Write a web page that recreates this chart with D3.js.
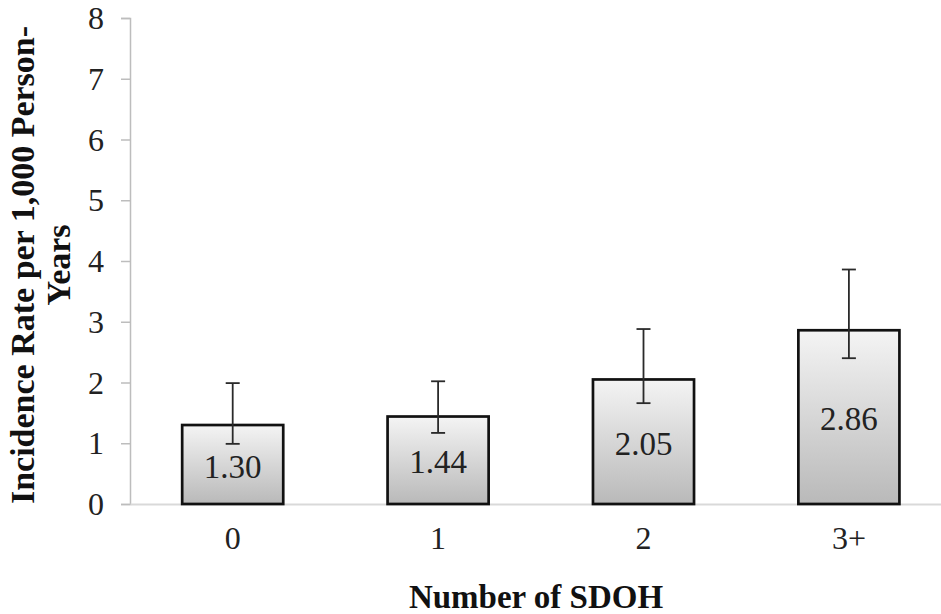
<!DOCTYPE html>
<html>
<head>
<meta charset="utf-8">
<script src="https://cdn.jsdelivr.net/npm/d3@7"></script>
<style>
  html, body { margin: 0; padding: 0; background: #fff; }
  svg { display: block; }
</style>
</head>
<body>
<svg id="chart" width="941" height="614"></svg>
<script>
const categories = ["0", "1", "2", "3+"];
const rates = [1.30, 1.44, 2.05, 2.86];
const rateLabels = ["1.30", "1.44", "2.05", "2.86"];
const ciLower = [0.99, 1.17, 1.66, 2.40];
const ciUpper = [1.99, 2.02, 2.88, 3.86];
const yTicks = [0, 1, 2, 3, 4, 5, 6, 7, 8];
const xTitle = "Number of SDOH";
const yTitleLines = ["Incidence Rate per 1,000 Person-", "Years"];

const svg = d3.select("#chart");
const serif = "'Liberation Serif', 'Times New Roman', Times, serif";

const x = d3.scaleBand().domain(categories).range([130, 951.6]).paddingInner(0.508).paddingOuter(0.254);
const y = d3.scaleLinear().domain([0, 8]).range([504, 18]);

// gradient
const defs = svg.append("defs");
const grad = defs.append("linearGradient").attr("id", "barGrad")
  .attr("x1", 0).attr("y1", 0).attr("x2", 0).attr("y2", 1);
grad.append("stop").attr("offset", "0%").attr("stop-color", "#f4f4f4");
grad.append("stop").attr("offset", "100%").attr("stop-color", "#b9b9b9");

// y axis
const yAxis = d3.axisLeft(y).tickValues(yTicks).tickSize(9).tickPadding(17).tickFormat(d3.format("d"));
const gy = svg.append("g").attr("transform", "translate(130,0)").call(yAxis);
gy.attr("font-family", serif).attr("font-size", 32);
gy.select(".domain").attr("stroke", "#bdbdbd").attr("stroke-width", 1.5);
gy.selectAll(".tick line").attr("stroke", "#bdbdbd").attr("stroke-width", 1.5);
gy.selectAll(".tick text").attr("font-family", serif).attr("font-size", 32).attr("fill", "#222").attr("dy", "0.33em");

// x axis
const xAxis = d3.axisBottom(x).tickSize(0).tickPadding(22);
const gx = svg.append("g").attr("transform", "translate(0,504)").call(xAxis);
gx.attr("font-family", serif).attr("font-size", 32);
gx.select(".domain").attr("stroke", "#d9d9d9").attr("stroke-width", 2);
gx.selectAll(".tick text").attr("font-family", serif).attr("font-size", 32).attr("fill", "#222");

// bars
const data = categories.map((c, i) => ({ c, v: rates[i], lab: rateLabels[i], lo: ciLower[i], hi: ciUpper[i] }));
svg.append("g").selectAll("rect").data(data).join("rect")
  .attr("x", d => x(d.c)).attr("width", x.bandwidth())
  .attr("y", d => y(d.v)).attr("height", d => y(0) - y(d.v))
  .attr("fill", "url(#barGrad)").attr("stroke", "#111").attr("stroke-width", 2.7);

// error bars
const eg = svg.append("g").attr("stroke", "#2a2a2a").attr("stroke-width", 1.8);
const cap = 7;
data.forEach(d => {
  const cx = x(d.c) + x.bandwidth() / 2;
  eg.append("line").attr("x1", cx).attr("x2", cx).attr("y1", y(d.hi)).attr("y2", y(d.lo));
  eg.append("line").attr("x1", cx - cap).attr("x2", cx + cap).attr("y1", y(d.hi)).attr("y2", y(d.hi));
  eg.append("line").attr("x1", cx - cap).attr("x2", cx + cap).attr("y1", y(d.lo)).attr("y2", y(d.lo));
});

// value labels
svg.append("g").selectAll("text").data(data).join("text")
  .attr("x", d => x(d.c) + x.bandwidth() / 2)
  .attr("y", d => (y(d.v) + y(0)) / 2)
  .attr("dy", "0.40em")
  .attr("text-anchor", "middle")
  .attr("font-family", serif).attr("font-size", 33).attr("fill", "#222")
  .text(d => d.lab);

// x title
svg.append("text").attr("x", 536).attr("y", 608)
  .attr("text-anchor", "middle").attr("font-family", serif).attr("font-weight", "bold")
  .attr("font-size", 33).attr("fill", "#111").text(xTitle);

// y title
const yt = svg.append("text").attr("transform", "translate(34,265) rotate(-90)")
  .attr("text-anchor", "middle").attr("font-family", serif).attr("font-weight", "bold")
  .attr("font-size", 34).attr("fill", "#111");
yt.append("tspan").attr("x", 0).attr("y", 0).text(yTitleLines[0]);
yt.append("tspan").attr("x", 0).attr("y", 36).text(yTitleLines[1]);
</script>
</body>
</html>
